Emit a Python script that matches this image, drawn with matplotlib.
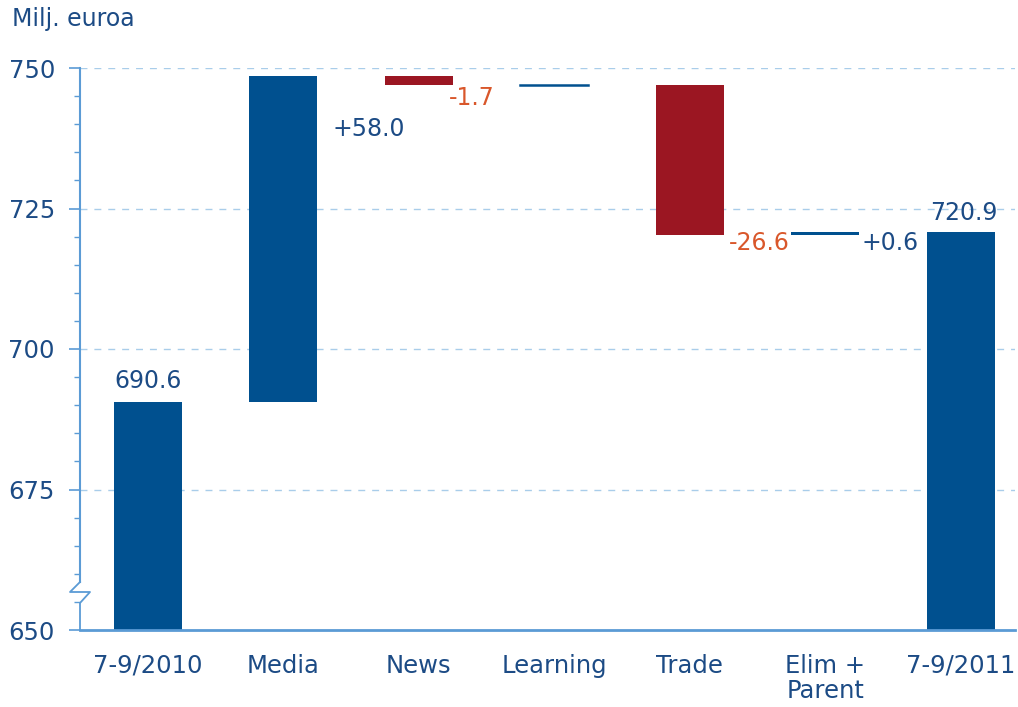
import matplotlib
matplotlib.use('Agg')
import matplotlib.pyplot as plt
from matplotlib.lines import Line2D
from matplotlib.ticker import MultipleLocator

# DATA
categories = ['7-9/2010', 'Media', 'News', 'Learning', 'Trade', 'Elim +\nParent', '7-9/2011']
start_value = 690.6
changes = [58.0, -1.7, 0.0, -26.6, 0.6]
end_value = 720.9
change_labels = ['+58.0', '-1.7', '', '-26.6', '+0.6']
y_ticks = [650, 675, 700, 725, 750]

# COLOURS
BLUE = '#00508f'
RED = '#9b1622'
TEXT_BLUE = '#1c4b85'
NEG_TEXT = '#d9572b'
AXIS = '#5b9bd5'
GRID = '#a9cdea'

fig = plt.figure(figsize=(10.18, 7.07), dpi=100)
ax = fig.add_axes([80 / 1018, 1 - 630 / 707, (1015 - 80) / 1018, (630 - 68) / 707])

ymin = 650
width = 0.5

# start bar
ax.bar(0, start_value - ymin, bottom=ymin, width=width, color=BLUE)
ax.text(0, start_value + 1.6, f'{start_value:.1f}', ha='center', va='bottom',
        fontsize=17, color=TEXT_BLUE)

# change bars
level = start_value
for i, ch in enumerate(changes, start=1):
    new_level = level + ch
    if ch == 0:
        ax.plot([i - width / 2, i + width / 2], [level, level], color=BLUE, lw=1.8)
    else:
        color = BLUE if ch > 0 else RED
        ax.bar(i, abs(ch), bottom=min(level, new_level), width=width, color=color)
    level = new_level

# change labels
ax.text(1.36, 739.2, change_labels[0], ha='left', va='center', fontsize=17, color=TEXT_BLUE)
ax.text(2.22, 744.6, change_labels[1], ha='left', va='center', fontsize=17, color=NEG_TEXT)
ax.text(4.29, 718.8, change_labels[3], ha='left', va='center', fontsize=17, color=NEG_TEXT)
ax.text(5.27, 718.8, change_labels[4], ha='left', va='center', fontsize=17, color=TEXT_BLUE)

# end bar
ax.bar(6, end_value - ymin, bottom=ymin, width=width, color=BLUE)
ax.text(6.02, end_value + 1.1, f'{end_value:.1f}', ha='center', va='bottom',
        fontsize=17, color=TEXT_BLUE)

ax.set_xlim(-0.5, 6.4)
ax.set_ylim(650, 750)
ax.set_xticks(range(len(categories)))
ax.set_xticklabels(categories, fontsize=17.5, color=TEXT_BLUE, linespacing=1.05)
ax.set_yticks(y_ticks)
ax.set_yticklabels([str(t) for t in y_ticks], fontsize=17.5, color=TEXT_BLUE)
ax.yaxis.set_minor_locator(MultipleLocator(5))
ax.tick_params(axis='x', length=0, pad=17)
ax.tick_params(axis='y', which='major', length=8, width=1.2, color=AXIS, pad=10)
ax.tick_params(axis='y', which='minor', length=4, width=1, color=AXIS)

for t in y_ticks[1:]:
    ax.axhline(t, color=GRID, lw=1, ls=(0, (5, 5)), zorder=0)

for s in ['top', 'right', 'left']:
    ax.spines[s].set_visible(False)
ax.spines['bottom'].set_color(AXIS)
ax.spines['bottom'].set_linewidth(2)

# broken left spine with zigzag
tr = ax.transAxes
h = 562
ax.add_line(Line2D([0, 0], [(630 - 582) / h, 1], transform=tr, color=AXIS, lw=1.5, clip_on=False))
ax.add_line(Line2D([0, 0, -10 / 935, 10 / 935, 0, 0],
                   [(630 - 582) / h, (630 - 582) / h, (630 - 592) / h, (630 - 592) / h,
                    (630 - 603) / h, 0],
                   transform=tr, color=AXIS, lw=1.3, clip_on=False))

fig.text(12 / 1018, 1 - 19 / 707, 'Milj. euroa', fontsize=17, color=TEXT_BLUE, va='center', ha='left')

plt.savefig('out.png', dpi=100)
